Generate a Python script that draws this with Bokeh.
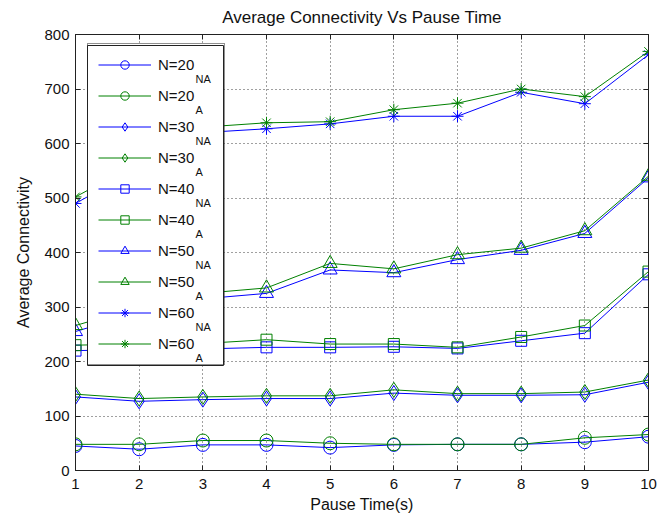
from bokeh.plotting import figure
from bokeh.models import (Range1d, LinearAxis, FixedTicker, Legend, LegendItem, Label,
                          BoxAnnotation)
from bokeh.core.properties import value
from bokeh.embed import file_html
from bokeh.resources import INLINE

# ---------------- data ----------------
pause_time = [1, 2, 3, 4, 5, 6, 7, 8, 9, 10]
x_ticks = [1, 2, 3, 4, 5, 6, 7, 8, 9, 10]
y_ticks = [0, 100, 200, 300, 400, 500, 600, 700, 800]

n20_na = [45, 39, 47, 47, 42, 47, 48, 48, 52, 62]
n20_a = [48, 48, 55, 55, 50, 48, 48, 48, 60, 66]
n30_na = [135, 127, 130, 132, 132, 142, 138, 138, 139, 162]
n30_a = [140, 132, 135, 137, 137, 148, 141, 141, 144, 166]
n40_na = [220, 222, 223, 226, 226, 227, 224, 238, 252, 360]
n40_a = [230, 232, 233, 240, 232, 232, 226, 245, 266, 365]
n50_na = [255, 290, 315, 325, 368, 363, 387, 404, 435, 537]
n50_a = [266, 300, 325, 335, 380, 370, 396, 408, 440, 540]
n60_na = [490, 555, 620, 627, 636, 650, 650, 694, 673, 763]
n60_a = [502, 565, 630, 638, 640, 662, 674, 700, 686, 769]

series_main = ["N=20", "N=20", "N=30", "N=30", "N=40", "N=40", "N=50", "N=50", "N=60", "N=60"]
series_sub = ["NA", "A", "NA", "A", "NA", "A", "NA", "A", "NA", "A"]
series_vals = [n20_na, n20_a, n30_na, n30_a, n40_na, n40_a, n50_na, n50_a, n60_na, n60_a]

# ---------------- style ----------------
BLUE = "#0000ff"
GREEN = "#008000"
FONT = "Liberation Sans"
TXT = "#111111"
colors = [BLUE, GREEN] * 5
markers = ["circle", "circle", "diamond", "diamond", "square", "square",
           "triangle", "triangle", "asterisk", "asterisk"]
msizes = [13, 13, 15, 15, 11, 11, 14, 14, 12, 12]

FL, FR, FT, FB = 75, 14, 34, 45
W, H = 662, 515

p = figure(width=W, height=H, output_backend="svg", toolbar_location=None,
           x_range=Range1d(1, 10), y_range=Range1d(0, 800),
           min_border_left=FL, min_border_right=FR, min_border_top=FT, min_border_bottom=FB,
           background_fill_color="white", border_fill_color="white")

p.title.text = "Average Connectivity Vs Pause Time"
p.title.align = "center"
p.title.vertical_align = "top"
p.title.text_font = FONT
p.title.text_font_size = "17px"
p.title.text_font_style = "normal"
p.title.text_color = TXT
p.title.standoff = 11

p.outline_line_color = "#222222"
p.outline_line_width = 1

xt = FixedTicker(ticks=x_ticks)
yt = FixedTicker(ticks=y_ticks)

for ax, tk in ((p.xaxis[0], xt), (p.yaxis[0], yt)):
    ax.ticker = tk
    ax.major_tick_in = 5
    ax.major_tick_out = 0
    ax.minor_tick_line_color = None
    ax.axis_line_color = "#222222"
    ax.major_tick_line_color = "#222222"
    ax.major_label_text_font = FONT
    ax.major_label_text_font_size = "15px"
    ax.major_label_text_color = TXT
    ax.axis_label_text_font = FONT
    ax.axis_label_text_font_size = "16px"
    ax.axis_label_text_font_style = "normal"
    ax.axis_label_text_color = TXT

p.xaxis.axis_label = "Pause Time(s)"
p.yaxis.axis_label = "Average Connectivity"
p.xaxis.major_label_standoff = 8
p.xaxis.axis_label_standoff = 4
p.yaxis.major_label_standoff = 6
p.yaxis.axis_label_standoff = 9

# tick marks on the top and right edges of the box (no labels)
for loc, tk in (("above", xt), ("right", yt)):
    ax = LinearAxis(ticker=tk, major_tick_in=5, major_tick_out=0,
                    minor_tick_line_color=None, axis_line_color="#222222",
                    major_tick_line_color="#222222",
                    major_label_text_font_size="1px", major_label_text_color=None,
                    major_label_standoff=0)
    p.add_layout(ax, loc)

p.xgrid.ticker = xt
p.ygrid.ticker = yt
for g in (p.xgrid[0], p.ygrid[0]):
    g.grid_line_color = "black"
    g.grid_line_dash = "1 3"
    g.grid_line_alpha = 0.75

items = []
for main, vals, c, m, s in zip(series_main, series_vals, colors, markers, msizes):
    lr = p.line(pause_time, vals, line_color=c, line_width=1)
    sr = p.scatter(pause_time, vals, marker=m, size=s, line_color=c,
                   fill_color=None, line_width=1)
    items.append(LegendItem(label=value(main), renderers=[lr, sr]))

# legend box geometry (screen px)
LEG_LEFT, LEG_TOP = 87, 45
PAD, GW, GH, SP, STAND, LW = 10, 53, 21, 10, 7, 56
n_items = len(items)
leg_height = 2 * PAD + n_items * GH + (n_items - 1) * SP
leg_width = 2 * PAD + GW + STAND + LW
frame_bottom = H - FB

# opaque legend background drawn first, so that the subscripts can sit on it
p.add_layout(BoxAnnotation(left=LEG_LEFT - FL, right=LEG_LEFT - FL + leg_width,
                           top=frame_bottom - LEG_TOP,
                           bottom=frame_bottom - LEG_TOP - leg_height,
                           left_units="screen", right_units="screen",
                           top_units="screen", bottom_units="screen",
                           fill_color="white", fill_alpha=1.0,
                           line_color="#222222", line_width=1, line_alpha=1.0))

legend = Legend(items=items,
                location=(LEG_LEFT - FL, frame_bottom - (LEG_TOP + leg_height)),
                glyph_width=GW, glyph_height=GH, label_height=GH, spacing=SP,
                padding=PAD, label_standoff=STAND, label_width=LW, margin=0,
                border_line_color="#222222", border_line_width=1,
                background_fill_alpha=0.0,
                label_text_font=FONT, label_text_font_size="15px",
                label_text_color=TXT)
p.add_layout(legend)

# subscripts of the legend entries
sub_x = LEG_LEFT - FL + PAD + GW + STAND + 38
for i, sub in enumerate(series_sub):
    cy = LEG_TOP + PAD + GH / 2 + i * (GH + SP)
    p.add_layout(Label(x=sub_x, y=frame_bottom - (cy + 13), x_units="screen",
                       y_units="screen", text=sub, text_font=FONT, text_font_size="11px",
                       text_color=TXT, text_baseline="alphabetic"))

open("out.html", "w").write(file_html(p, INLINE))
